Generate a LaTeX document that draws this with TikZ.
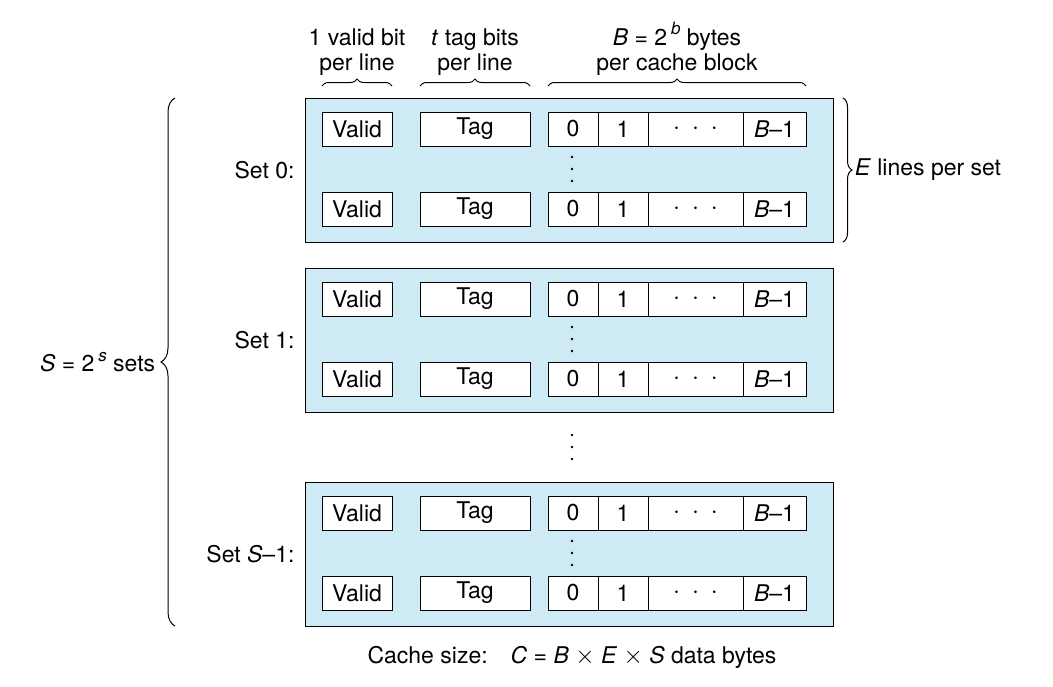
\documentclass[tikz,border=0pt]{standalone}
\usepackage{fontspec}
\setmainfont{TeX Gyre Heros}
\usetikzlibrary{positioning,decorations.pathreplacing}
\definecolor{setblue}{HTML}{CDEAF5}
\tikzset{
  setbox/.style={draw,fill=setblue,line width=1pt},
  cell/.style={draw,fill=white,line width=1pt,minimum height=34pt,inner sep=0pt,font=\fontsize{23}{26}\selectfont},
  lbl/.style={font=\fontsize{23}{25}\selectfont,align=center},
  brc/.style={decorate,decoration={brace,amplitude=#1},line width=1pt},
  brc/.default=9pt
}
\newcommand\vdotsat[2]{\foreach \k in {-1,0,1}{\fill (#1,#2+12*\k) circle (1.4pt);}}
\begin{document}
\begin{tikzpicture}[x=1pt,y=-1pt]
\useasboundingbox (0,0) rectangle (1053,686);
% three sets
\foreach \top/\name/\lab in {98/s0/{Set 0:},268/s1/{Set 1:},482/s2/{Set \textit{S}--1:}}{
  \draw[setbox] (305,\top) rectangle (833,\top+144);
  \node[lbl,anchor=east] (\name) at (298,\top+72) {\lab};
  \foreach \row/\dy in {a/31,b/111}{
    \node[cell,minimum width=70pt] (\name\row v) at (357,\top+\dy) {Valid};
    \node[cell,minimum width=110pt] (\name\row t) at (475,\top+\dy) {Tag};
    \node[cell,minimum width=50pt] (\name\row c0) at (573,\top+\dy) {0};
    \node[cell,minimum width=50pt] (\name\row c1) at (623,\top+\dy) {1};
    \node[cell,minimum width=95pt] (\name\row cd) at (695.5,\top+\dy) {$\cdot\ \cdot\ \cdot$};
    \node[cell,minimum width=63pt] (\name\row cb) at (774.5,\top+\dy) {\textit{B}--1};
  }
  \vdotsat{572}{\top+71}
}
\vdotsat{572}{447}
% braces on top
\draw[brc=7pt] (322,86) -- (392,86) node[lbl,midway,above=7pt] (hv) {1 valid bit\\per line};
\draw[brc=7pt] (420,86) -- (530,86) node[lbl,midway,above=7pt] (ht) {\textit{t} tag bits\\per line};
\draw[brc=7pt] (548,86) -- (806,86) node[lbl,midway,above=7pt] (hb) {\textit{B} = 2\,\raisebox{0.45em}{\fontsize{17}{17}\selectfont\textit{b}} bytes\\per cache block};
% side braces
\draw[brc=14pt] (175,626) -- (175,98) node[lbl,midway,left=16pt] (sets) {\textit{S} = 2\,\raisebox{0.45em}{\fontsize{17}{17}\selectfont\textit{s}} sets};
\draw[brc=9pt] (843,98) -- (843,242) node[lbl,midway,right=8pt] (lines) {\textit{E} lines per set};
\node[lbl] (size) at (572,657) {Cache size:\quad \textit{C} = \textit{B} $\times$ \textit{E} $\times$ \textit{S} data bytes};
\end{tikzpicture}
\end{document}
